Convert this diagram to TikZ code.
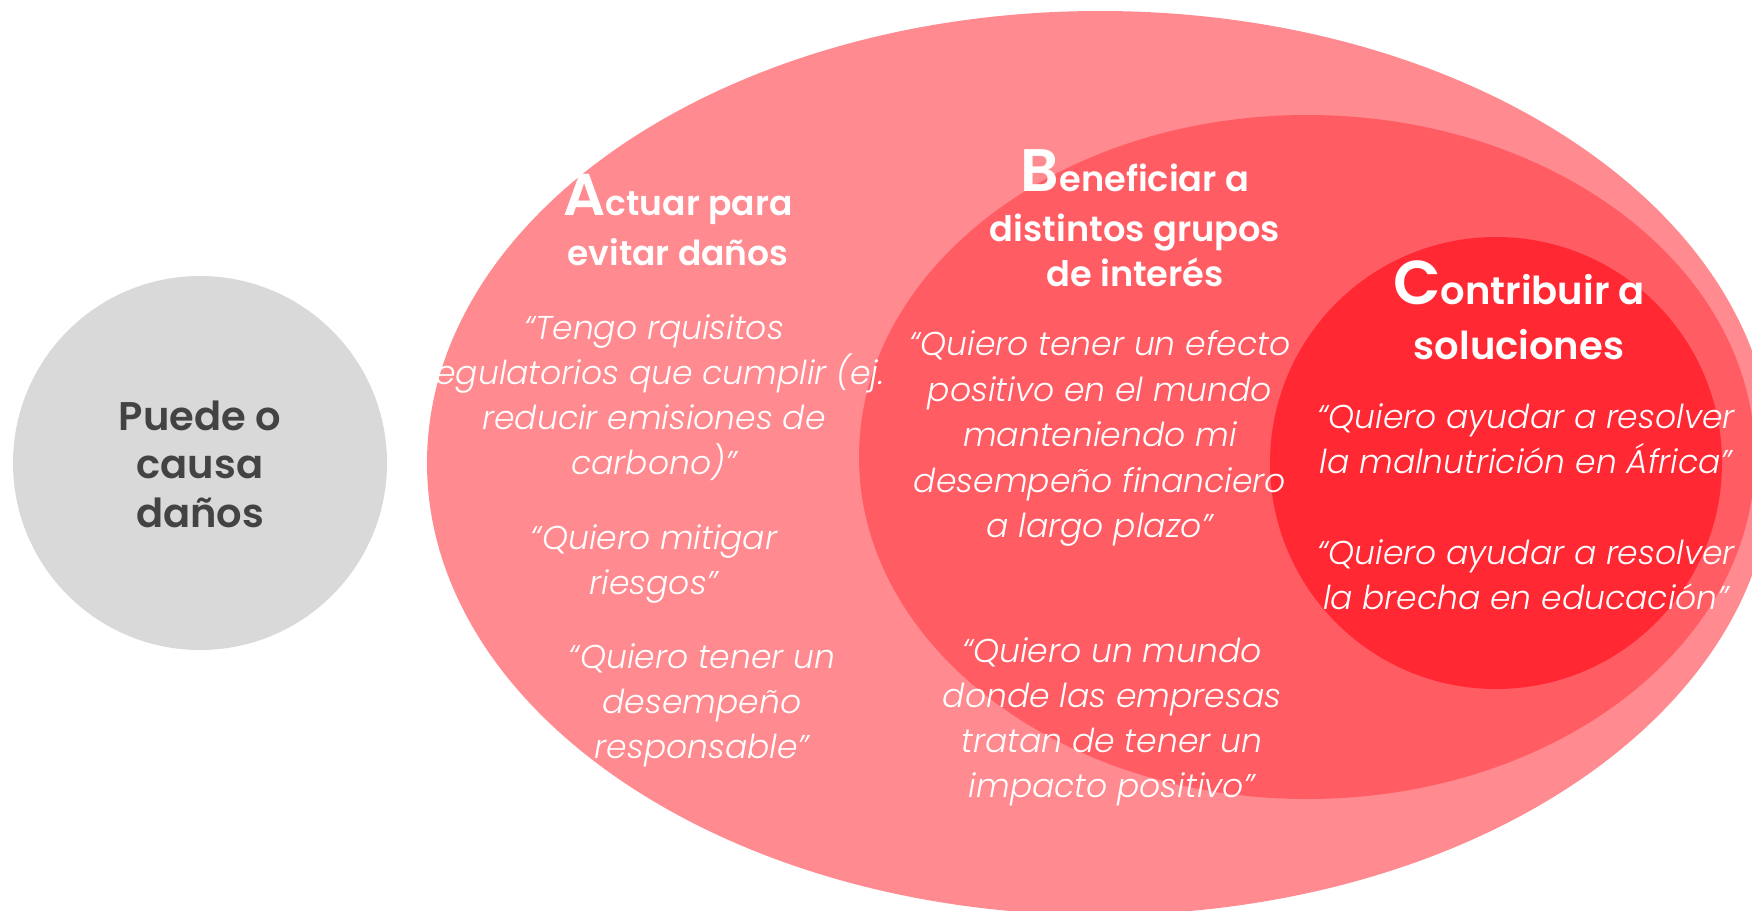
\documentclass[tikz,border=0pt]{standalone}
\usepackage{fontspec}
\setmainfont{Poppins}
\newfontfamily\qfont{Poppins}[UprightFont={* Light Italic}]
\newfontfamily\hfont{Poppins}[UprightFont={* SemiBold}]
\definecolor{cgray}{HTML}{D9D9D9}
\definecolor{cgtext}{HTML}{434343}
\definecolor{couter}{HTML}{FF8A8F}
\definecolor{cmid}{HTML}{FF5C64}
\definecolor{cinner}{HTML}{FF2833}
\tikzset{
  quote/.style={text=white, align=center, inner sep=0pt, font=\qfont\fontsize{33}{45}\selectfont},
  head/.style={text=white, align=center, inner sep=0pt, font=\hfont\fontsize{#1}{45}\selectfont},
  graytext/.style={text=cgtext, align=center, inner sep=0pt, font=\hfont\fontsize{40}{48.5}\selectfont}
}
\newcommand{\bigini}[2]{{\fontsize{#1}{45}\selectfont #2}}
\begin{document}
\begin{tikzpicture}[x=1pt,y=-1pt]
\useasboundingbox (0,0) rectangle (1752,910);
\begin{scope}
\clip (0,0) rectangle (1752,910);
\fill[cgray] (200,463) circle [radius=187pt];
\fill[couter] (1100,463) ellipse [x radius=673pt, y radius=452pt];
\fill[cmid] (1307,457) ellipse [x radius=448pt, y radius=342pt];
\fill[cinner] (1496,463) circle [radius=226pt];
\end{scope}

\node[graytext] (g) at (200,464) {Puede o\\causa\\daños};

\node[head=34.5] (ha) at (678,220) {\bigini{59}{A}ctuar para\\[5pt]evitar daños};
\node[quote] (qa1) at (654,397.5) {“Tengo rquisitos\\regulatorios que cumplir (ej.\\reducir emisiones de\\carbono)”};
\node[quote] (qa2) at (654,564.5) {“Quiero mitigar\\riesgos”};
\node[quote] (qa3) at (702,705.5) {“Quiero tener un\\desempeño\\responsable”};

\node[head=35.2] (hb) at (1135,218) {\bigini{60}{B}eneficiar a\\[5pt]distintos grupos\\de interés};
\node[quote,font=\qfont\fontsize{33}{45.5}\selectfont] (qb1) at (1100,438.5) {“Quiero tener un efecto\\positivo en el mundo\\manteniendo mi\\desempeño financiero\\a largo plazo”};
\node[quote] (qb2) at (1112,721.5) {“Quiero un mundo\\donde las empresas\\tratan de tener un\\impacto positivo”};

\node[head=38.5] (hc) at (1519,310) {\bigini{62}{C}ontribuir a\\[10pt]soluciones};
\node[quote] (qc1) at (1526,439) {“Quiero ayudar a resolver\\la malnutrición en África”};
\node[quote] (qc2) at (1526,575) {“Quiero ayudar a resolver\\la brecha en educación”};
\end{tikzpicture}
\end{document}
